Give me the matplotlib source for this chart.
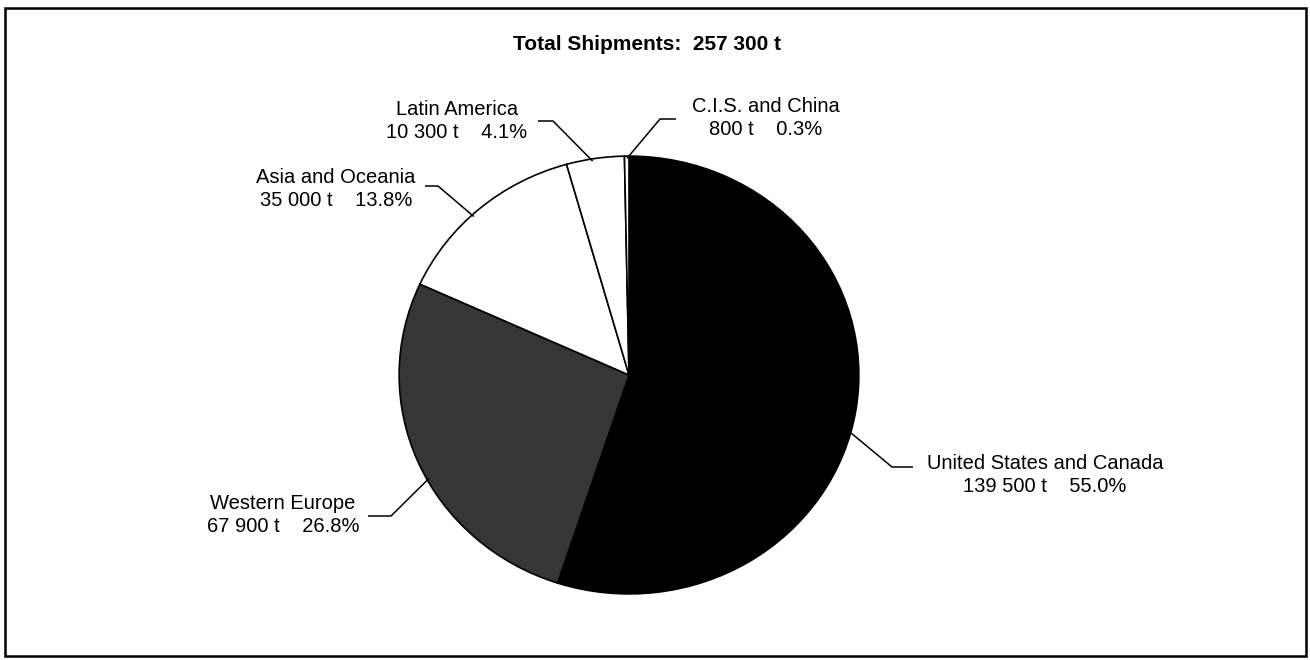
import matplotlib
matplotlib.use("Agg")
import matplotlib.pyplot as plt
from matplotlib.patches import Rectangle
import numpy as np

# Shipments by destination region (tonnes)
regions = ["United States and Canada", "Western Europe", "Asia and Oceania",
           "Latin America", "C.I.S. and China"]
tonnes = [139500, 67900, 35000, 10300, 800]
percent_labels = [55.0, 26.8, 13.8, 4.1, 0.3]
total_shipments = 257300

colors = ["#000000", "#363636", "#ffffff", "#ffffff", "#ffffff"]

W, H = 1310, 660
fig = plt.figure(figsize=(W / 100, H / 100), dpi=100)
fig.patch.set_facecolor("white")
plt.rcParams["font.family"] = ["Liberation Sans", "DejaVu Sans"]
FS = 14.5

# pie geometry in pixels (slightly oval, as printed)
cx, cy, rx, ry = 629, 375, 231, 220

pie_ax = fig.add_axes([(cx - rx) / W, (H - cy - ry) / H, 2 * rx / W, 2 * ry / H])
pie_ax.pie(tonnes, colors=colors, startangle=90, counterclock=False,
           radius=1.0, wedgeprops=dict(edgecolor="black", linewidth=1.2))
pie_ax.set_aspect("auto")
pie_ax.set_xlim(-1.005, 1.005)
pie_ax.set_ylim(-1.005, 1.005)
pie_ax.axis("off")

# overlay in pixel coordinates for labels, leaders and frame
ax = fig.add_axes([0, 0, 1, 1])
ax.set_xlim(0, W)
ax.set_ylim(H, 0)
ax.axis("off")

ax.add_patch(Rectangle((4.5, 7.5), 1301, 648, fill=False, edgecolor="black",
                       linewidth=1.8))

ax.text(647, 45, f"Total Shipments:  {total_shipments:,} t".replace(",", " "),
        ha="center", va="center", fontsize=15, fontweight="bold")


def fmt(v):
    return f"{v:,}".replace(",", " ")


# label layout: text centre, leader anchor angle on the rim, leader elbow points
label_pos = [(1045, 475), (283, 515), (336, 189), (457, 121), (766, 118)]
anchor_deg = [-15.0, 208.5, 133.0, 99.2, 90.5]
elbows = [
    [(892, 467), (913, 467)],
    [(391, 516), (368, 516)],
    [(438, 186), (425, 186)],
    [(553, 121), (538, 121)],
    [(660, 119), (676, 119)],
]

for name, t, p, (tx, ty), a, el in zip(regions, tonnes, percent_labels,
                                       label_pos, anchor_deg, elbows):
    ax.text(tx, ty, f"{name}\n{fmt(t)} t    {p:.1f}%", ha="center",
            va="center", fontsize=FS, linespacing=1.25)
    th = np.deg2rad(a)
    px = cx + 0.985 * rx * np.cos(th)
    py = cy - 0.985 * ry * np.sin(th)
    xs = [px] + [e[0] for e in el]
    ys = [py] + [e[1] for e in el]
    ax.plot(xs, ys, color="black", linewidth=1.1, solid_capstyle="butt")

fig.savefig("out.png", dpi=100)
